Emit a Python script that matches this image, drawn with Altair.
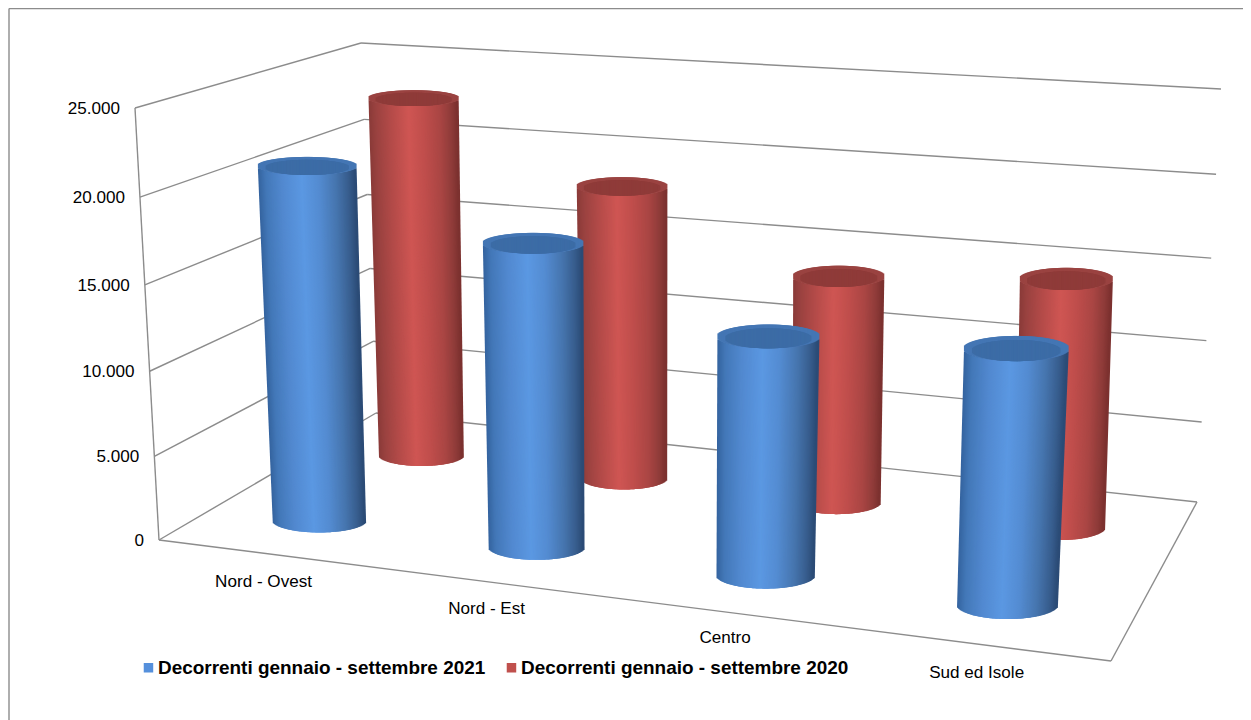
import numpy as np
import pandas as pd
import altair as alt

categories = ["Nord - Ovest", "Nord - Est", "Centro", "Sud ed Isole"]
series_names = ["Decorrenti gennaio - settembre 2021", "Decorrenti gennaio - settembre 2020"]
values_2021 = [21100, 17660, 13570, 14160]
values_2020 = [22900, 18310, 13875, 14840]
tick_values = [0, 5000, 10000, 15000, 20000, 25000]
tick_labels = ["0", "5.000", "10.000", "15.000", "20.000", "25.000"]
AXIS_MAX = 25000

# perspective box: corners in page pixels (front-left, front-right, back-right, back-left)
FLOOR = [(159, 540), (1111, 661), (1197, 502), (376, 413)]
CEIL = [(135, 108), (1130, 178), (1221, 89), (361, 43)]
W_PERSP = 1.04
ROW_V = [0.229, 0.729]
U_SHIFT = 0.0
HALF_W = [(46.5, 5.0), (42.5, 3.0)]
LEAN = [(650, 0.0437), (715, 0.029)]
LABEL_NUDGE = [(36, 3), (29, 0), (24, -3), (17.5, -2)]
STROKE = 2.4


def homography(c):
    src = [(0, 0), (1, 0), (1, 1), (0, 1)]
    A, b = [], []
    for (u, v), (x, y) in zip(src, c):
        A.append([u, v, 1, 0, 0, 0, -u * x, -v * x])
        A.append([0, 0, 0, u, v, 1, -u * y, -v * y])
        b += [x, y]
    h = np.linalg.solve(np.array(A, float), np.array(b, float))
    return np.append(h, 1).reshape(3, 3)


HF, HC = homography(FLOOR), homography(CEIL)


def plane(H, u, v):
    p = H @ np.array([u, v, 1.0])
    return p[:2] / p[2]


def proj(u, v, s):
    f = s / (s + W_PERSP * (1 - s)) if s > 0 else 0.0
    return plane(HF, u, v) * (1 - f) + plane(HC, u, v) * f


def hexmix(stops, t):
    ts = [a for a, _ in stops]
    rgb = [[int(c[i:i + 2], 16) for i in (1, 3, 5)] for _, c in stops]
    out = [int(round(np.interp(t, ts, [r[k] for r in rgb]))) for k in range(3)]
    return "#%02x%02x%02x" % tuple(out)


SHADE = {
    0: [(0, "#34639e"), (0.08, "#4378b8"), (0.25, "#5289d0"), (0.45, "#5b98e2"), (0.62, "#548cd2"),
        (0.8, "#4675ae"), (0.93, "#375c8c"), (1, "#2a4a74")],
    1: [(0, "#8a3b39"), (0.08, "#9a4240"), (0.25, "#b44b49"), (0.45, "#cf5653"), (0.62, "#c04e4c"),
        (0.8, "#aa4644"), (0.93, "#8e3b39"), (1, "#7a302e")],
}
RIM = {0: "#4476b4", 1: "#9a4341"}
LID = {0: "#3c6ca6", 1: "#8f3b39"}
LEGEND_COLORS = ["#5590dc", "#c0504d"]

GREY = "#8c8c8c"
rows = []


def rule(a, b, c=GREY):
    rows.append(dict(x=a[0], y=a[1], x2=b[0], y2=b[1], c=c))


grid = []
for tv in tick_values:
    s = tv / AXIS_MAX
    a, b, c = proj(0, 0, s), proj(0, 1, s), proj(1, 1, s)
    grid.append(dict(x=a[0], y=a[1], x2=b[0], y2=b[1]))
    grid.append(dict(x=b[0], y=b[1], x2=c[0], y2=c[1]))
for a, b in [(proj(0, 0, 0), proj(0, 0, 1)), (proj(0, 0, 0), proj(1, 0, 0)), (proj(1, 0, 0), proj(1, 1, 0))]:
    grid.append(dict(x=a[0], y=a[1], x2=b[0], y2=b[1]))
# chart-area frame (only its left and top sides fall inside the page)
grid.append(dict(x=9, y=8.5, x2=1243, y2=8.5))
grid.append(dict(x=9, y=8.5, x2=9, y2=720))


def ratio(u, s):
    return 0.28 + 0.04 * (u - 0.5) - 0.10 * s


centers = []
inset = STROKE / 2
for row in (1, 0):
    vals = values_2021 if row == 0 else values_2020
    base, slope = HALF_W[row]
    x0, g = LEAN[row]
    for i, val in enumerate(vals):
        u, v, s = (i + 0.5) / 4 + U_SHIFT, ROW_V[row], val / AXIS_MAX
        cb, ct = proj(u, v, 0), proj(u, v, s)
        ct = np.array([cb[0] + (cb[0] - x0) * g * s, ct[1]])
        hb = base + slope * u
        ht = hb * (1 + 0.07 * s)
        eb, et = hb * ratio(u, 0), ht * ratio(u, s)
        n = int(2 * max(hb, ht)) + 1
        centers.append(dict(x=(cb[0] + ct[0]) / 2, y=(cb[1] + ct[1]) / 2, serie=series_names[row], value=val,
                            categoria=categories[i]))
        lim = 1 - inset / hb
        for t in (np.arange(n) + 0.5) / n:
            a = (2 * t - 1) * lim
            q = np.sqrt(1 - a * a)
            rule((ct[0] + ht * a, ct[1] + et * q), (cb[0] + hb * a, cb[1] + eb * q), hexmix(SHADE[row], t))
        for t in (np.arange(n) + 0.5) / n:
            a = (2 * t - 1) * lim
            q = np.sqrt(1 - a * a)
            x = ct[0] + ht * a
            rule((x, ct[1] - et * q), (x, ct[1] + et * q), RIM[row])
        for t in (np.arange(n) + 0.5) / n:
            a = (2 * t - 1) * lim
            q = np.sqrt(1 - a * a)
            x = ct[0] + ht * 0.84 * a
            cy = ct[1] + et * 0.16
            rule((x, cy - et * 0.84 * q), (x, cy + et * 0.84 * q), LID[row])

ticks_df = []
for tv, lab in zip(tick_values, tick_labels):
    p = proj(0, 0, tv / AXIS_MAX)
    ticks_df.append(dict(x=p[0] - 15, y=p[1] + 1.2, label=lab))

cat_df = []
for i, lab in enumerate(categories):
    p = proj((i + 0.5) / 4, -0.16, 0)
    cat_df.append(dict(x=p[0] + LABEL_NUDGE[i][0], y=p[1] + LABEL_NUDGE[i][1], label=lab))

xs = alt.Scale(domain=[8, 1243], nice=False, zero=False)
ys = alt.Scale(domain=[720, 8], nice=False, zero=False)
X = alt.X("x:Q", scale=xs, axis=None)
Y = alt.Y("y:Q", scale=ys, axis=None)

grid_layer = alt.Chart(pd.DataFrame(grid)).mark_rule(color=GREY, strokeWidth=1.4).encode(
    x=X, y=Y, x2="x2:Q", y2="y2:Q")

legend_layer = alt.Chart(pd.DataFrame(centers)).mark_square(size=1).encode(
    x=X, y=Y,
    color=alt.Color("serie:N", sort=series_names,
                    scale=alt.Scale(domain=series_names, range=LEGEND_COLORS),
                    legend=alt.Legend(title=None, orient="none", legendX=131, legendY=650, direction="horizontal",
                                      symbolType="square", symbolSize=90, symbolStrokeWidth=0, labelFontSize=18.95,
                                      labelFont="Liberation Sans", labelFontWeight="bold", labelColor="#000000",
                                      labelLimit=600, columnPadding=16, labelOffset=0, symbolOpacity=1)))

cyl_layer = alt.Chart(pd.DataFrame(rows)).mark_rule(strokeWidth=STROKE).encode(
    x=X, y=Y, x2="x2:Q", y2="y2:Q", stroke=alt.Stroke("c:N", scale=None, legend=None))

tick_layer = alt.Chart(pd.DataFrame(ticks_df)).mark_text(
    align="right", baseline="middle", font="Liberation Sans", fontSize=17.1, color="#000000").encode(
    x=X, y=Y, text="label:N")

cat_layer = alt.Chart(pd.DataFrame(cat_df)).mark_text(
    align="center", baseline="middle", font="Liberation Sans", fontSize=17.1, color="#000000").encode(
    x=X, y=Y, text="label:N")

chart = alt.layer(grid_layer, legend_layer, cyl_layer, tick_layer, cat_layer).properties(
    width=1235, height=712, padding=0, autosize=alt.AutoSizeParams(type="none"),
    background="#ffffff").configure_view(stroke=None)

chart.save("out.html", embed_options={"renderer": "svg", "actions": False})
